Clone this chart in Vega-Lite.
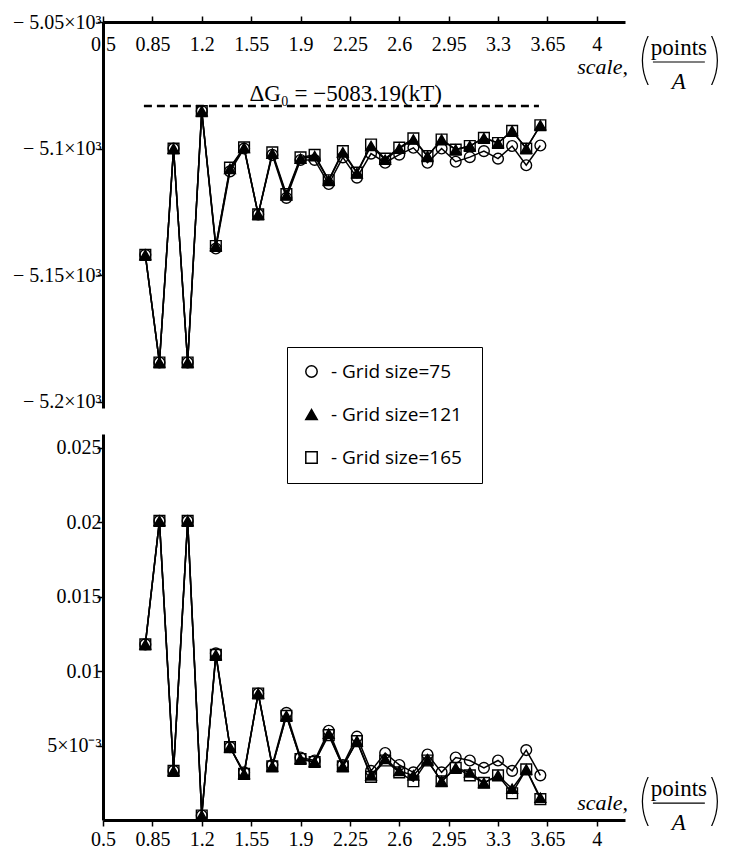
{
  "$schema": "https://vega.github.io/schema/vega-lite/v6.json",
  "background": "white",
  "padding": {"left": 12, "top": 12, "right": 5, "bottom": 5},
  "spacing": 26,
  "bounds": "flush",
  "config": {
    "view": {"stroke": null},
    "axis": {"grid": false, "domainColor": "black", "domainWidth": 3, "tickColor": "black", "tickWidth": 1.5, "tickSize": 6, "labelColor": "black", "labelFont": "Liberation Serif, Times New Roman, serif", "labelFontSize": 20, "labelFlush": false, "labelOverlap": false}
  },
  "datasets": {
    "points": [
      {"scale":0.8,"grid":"Grid size=75","dG":-5142,"err":0.0118},{"scale":0.8,"grid":"Grid size=121","dG":-5142,"err":0.0118},{"scale":0.8,"grid":"Grid size=165","dG":-5142,"err":0.0118},
      {"scale":0.9,"grid":"Grid size=75","dG":-5184.5,"err":0.0201},{"scale":0.9,"grid":"Grid size=121","dG":-5184.5,"err":0.0201},{"scale":0.9,"grid":"Grid size=165","dG":-5184.5,"err":0.0201},
      {"scale":1.0,"grid":"Grid size=75","dG":-5100,"err":0.0033},{"scale":1.0,"grid":"Grid size=121","dG":-5100,"err":0.0033},{"scale":1.0,"grid":"Grid size=165","dG":-5100,"err":0.0033},
      {"scale":1.1,"grid":"Grid size=75","dG":-5184.5,"err":0.0201},{"scale":1.1,"grid":"Grid size=121","dG":-5184.5,"err":0.0201},{"scale":1.1,"grid":"Grid size=165","dG":-5184.5,"err":0.0201},
      {"scale":1.2,"grid":"Grid size=75","dG":-5085.2,"err":0.0003},{"scale":1.2,"grid":"Grid size=121","dG":-5085.2,"err":0.0003},{"scale":1.2,"grid":"Grid size=165","dG":-5085.2,"err":0.0003},
      {"scale":1.3,"grid":"Grid size=75","dG":-5139.5,"err":0.0112},{"scale":1.3,"grid":"Grid size=121","dG":-5138.5,"err":0.0111},{"scale":1.3,"grid":"Grid size=165","dG":-5138.5,"err":0.0111},
      {"scale":1.4,"grid":"Grid size=75","dG":-5109,"err":0.0049},{"scale":1.4,"grid":"Grid size=121","dG":-5108,"err":0.0049},{"scale":1.4,"grid":"Grid size=165","dG":-5107.5,"err":0.0049},
      {"scale":1.5,"grid":"Grid size=75","dG":-5100,"err":0.0032},{"scale":1.5,"grid":"Grid size=121","dG":-5099.7,"err":0.0031},{"scale":1.5,"grid":"Grid size=165","dG":-5099.5,"err":0.0031},
      {"scale":1.6,"grid":"Grid size=75","dG":-5126,"err":0.0085},{"scale":1.6,"grid":"Grid size=121","dG":-5126,"err":0.0085},{"scale":1.6,"grid":"Grid size=165","dG":-5126,"err":0.0085},
      {"scale":1.7,"grid":"Grid size=75","dG":-5102.5,"err":0.0037},{"scale":1.7,"grid":"Grid size=121","dG":-5102,"err":0.0036},{"scale":1.7,"grid":"Grid size=165","dG":-5101.5,"err":0.0036},
      {"scale":1.8,"grid":"Grid size=75","dG":-5119.5,"err":0.0072},{"scale":1.8,"grid":"Grid size=121","dG":-5118.5,"err":0.0070},{"scale":1.8,"grid":"Grid size=165","dG":-5118,"err":0.0070},
      {"scale":1.9,"grid":"Grid size=75","dG":-5104.5,"err":0.0042},{"scale":1.9,"grid":"Grid size=121","dG":-5104,"err":0.0041},{"scale":1.9,"grid":"Grid size=165","dG":-5103.5,"err":0.0041},
      {"scale":2.0,"grid":"Grid size=75","dG":-5104.5,"err":0.0040},{"scale":2.0,"grid":"Grid size=121","dG":-5103,"err":0.0039},{"scale":2.0,"grid":"Grid size=165","dG":-5102.5,"err":0.0039},
      {"scale":2.1,"grid":"Grid size=75","dG":-5114,"err":0.0060},{"scale":2.1,"grid":"Grid size=121","dG":-5112.6,"err":0.0058},{"scale":2.1,"grid":"Grid size=165","dG":-5112.5,"err":0.0057},
      {"scale":2.2,"grid":"Grid size=75","dG":-5103.5,"err":0.0037},{"scale":2.2,"grid":"Grid size=121","dG":-5101.5,"err":0.0036},{"scale":2.2,"grid":"Grid size=165","dG":-5101,"err":0.0036},
      {"scale":2.3,"grid":"Grid size=75","dG":-5111.5,"err":0.0056},{"scale":2.3,"grid":"Grid size=121","dG":-5109.7,"err":0.0053},{"scale":2.3,"grid":"Grid size=165","dG":-5109.5,"err":0.0053},
      {"scale":2.4,"grid":"Grid size=75","dG":-5102,"err":0.0033},{"scale":2.4,"grid":"Grid size=121","dG":-5099,"err":0.0030},{"scale":2.4,"grid":"Grid size=165","dG":-5098.4,"err":0.0029},
      {"scale":2.5,"grid":"Grid size=75","dG":-5105.6,"err":0.0045},{"scale":2.5,"grid":"Grid size=121","dG":-5104.4,"err":0.0041},{"scale":2.5,"grid":"Grid size=165","dG":-5104,"err":0.0040},
      {"scale":2.6,"grid":"Grid size=75","dG":-5102.4,"err":0.0037},{"scale":2.6,"grid":"Grid size=121","dG":-5100,"err":0.0033},{"scale":2.6,"grid":"Grid size=165","dG":-5099.6,"err":0.0032},
      {"scale":2.7,"grid":"Grid size=75","dG":-5099.7,"err":0.0032},{"scale":2.7,"grid":"Grid size=121","dG":-5096.4,"err":0.0030},{"scale":2.7,"grid":"Grid size=165","dG":-5096,"err":0.0026},
      {"scale":2.8,"grid":"Grid size=75","dG":-5105.6,"err":0.0044},{"scale":2.8,"grid":"Grid size=121","dG":-5103,"err":0.0040},{"scale":2.8,"grid":"Grid size=165","dG":-5103,"err":0.0040},
      {"scale":2.9,"grid":"Grid size=75","dG":-5100,"err":0.0032},{"scale":2.9,"grid":"Grid size=121","dG":-5096.4,"err":0.0026},{"scale":2.9,"grid":"Grid size=165","dG":-5096.4,"err":0.0026},
      {"scale":3.0,"grid":"Grid size=75","dG":-5105.2,"err":0.0042},{"scale":3.0,"grid":"Grid size=121","dG":-5100.4,"err":0.0035},{"scale":3.0,"grid":"Grid size=165","dG":-5100.4,"err":0.0035},
      {"scale":3.1,"grid":"Grid size=75","dG":-5103.4,"err":0.0040},{"scale":3.1,"grid":"Grid size=121","dG":-5099,"err":0.0032},{"scale":3.1,"grid":"Grid size=165","dG":-5099,"err":0.0030},
      {"scale":3.2,"grid":"Grid size=75","dG":-5101,"err":0.0035},{"scale":3.2,"grid":"Grid size=121","dG":-5095.8,"err":0.0025},{"scale":3.2,"grid":"Grid size=165","dG":-5095.8,"err":0.0025},
      {"scale":3.3,"grid":"Grid size=75","dG":-5104,"err":0.0040},{"scale":3.3,"grid":"Grid size=121","dG":-5097.8,"err":0.0030},{"scale":3.3,"grid":"Grid size=165","dG":-5097.8,"err":0.0030},
      {"scale":3.4,"grid":"Grid size=75","dG":-5099,"err":0.0033},{"scale":3.4,"grid":"Grid size=121","dG":-5093,"err":0.0021},{"scale":3.4,"grid":"Grid size=165","dG":-5093,"err":0.0018},
      {"scale":3.5,"grid":"Grid size=75","dG":-5106.6,"err":0.0047},{"scale":3.5,"grid":"Grid size=121","dG":-5100,"err":0.0034},{"scale":3.5,"grid":"Grid size=165","dG":-5100,"err":0.0034},
      {"scale":3.6,"grid":"Grid size=75","dG":-5098.8,"err":0.0030},{"scale":3.6,"grid":"Grid size=121","dG":-5090.8,"err":0.0015},{"scale":3.6,"grid":"Grid size=165","dG":-5090.8,"err":0.0014}
    ],
    "notes": [
      {"role":"scale","text":"scale,","scale":4.221,"dG":-5067.6,"err":0.00114},
      {"role":"paren","text":"(","scale":4.334,"dG":-5065.8,"err":0.00114},
      {"role":"paren","text":")","scale":4.844,"dG":-5065.8,"err":0.00114},
      {"role":"num","text":"points","scale":4.582,"dG":-5060.3,"err":0.00208},
      {"role":"den","text":"A","scale":4.582,"dG":-5073.7,"err":-0.0002}
    ],
    "fraction": [{"scale":4.398,"scaleEnd":4.766,"dG":-5065.8,"err":0.00114}],
    "reference": [{"scale":0.79,"scaleEnd":3.59,"dG":-5083.19,"text":"ΔG₀ = −5083.19(kT)","labelScale":2.22,"labelDG":-5081.2}]
  },
  "vconcat": [
    {
      "width": 522,
      "height": 386,
      "encoding": {
        "x": {"field": "scale", "type": "quantitative", "scale": {"domain": [0.5, 4.2], "nice": false, "zero": false},
          "axis": {"orient": "top", "title": null, "values": [0.5,0.85,1.2,1.55,1.9,2.25,2.6,2.95,3.3,3.65,4], "labelExpr": "'' + datum.value", "labelBaseline": "top", "labelPadding": -18}},
        "y": {"field": "dG", "type": "quantitative", "scale": {"domain": [-5202.5, -5050], "nice": false, "zero": false},
          "axis": {"title": null, "values": [-5200,-5150,-5100,-5050], "labelExpr": "'− ' + (-datum.value/1000) + '×10³'", "labelPadding": -4}}
      },
      "layer": [
        {"data": {"name": "reference"}, "mark": {"type": "rule", "color": "black", "strokeWidth": 2.5, "strokeDash": [8, 5]}, "encoding": {"x2": {"field": "scaleEnd"}}},
        {"data": {"name": "reference"}, "mark": {"type": "text", "font": "Liberation Serif, Times New Roman, serif", "fontSize": 23, "color": "black", "baseline": "alphabetic", "align": "center"},
          "encoding": {"x": {"field": "labelScale", "type": "quantitative"}, "y": {"field": "labelDG", "type": "quantitative"}, "text": {"field": "text"}}},
        {"data": {"name": "points"}, "mark": {"type": "line", "color": "black", "strokeWidth": 1.5}, "encoding": {"detail": {"field": "grid"}}},
        {"data": {"name": "points"}, "mark": {"type": "point", "filled": true, "stroke": "black", "strokeWidth": 1.4, "size": 115, "opacity": 1},
          "encoding": {
            "shape": {"field": "grid", "type": "nominal", "scale": {"domain": ["Grid size=75","Grid size=121","Grid size=165"], "range": ["circle","triangle-up","square"]},
              "legend": {"title": null, "orient": "none", "legendX": 184, "legendY": 325, "strokeColor": "black", "padding": 15, "rowPadding": 23, "labelFont": "Open Sans", "labelFontSize": 19, "labelColor": "black", "labelOffset": 10, "symbolSize": 130, "labelLimit": 400, "labelExpr": "'-  ' + datum.label",
                "encode": {"symbols": {"update": {"stroke": {"value": "black"}, "strokeWidth": {"value": 1.4}}}}}},
            "fill": {"field": "grid", "type": "nominal", "scale": {"domain": ["Grid size=75","Grid size=121","Grid size=165"], "range": ["transparent","black","transparent"]},
              "legend": {"title": null, "orient": "none", "legendX": 184, "legendY": 325, "strokeColor": "black", "padding": 15, "rowPadding": 23, "labelFont": "Open Sans", "labelFontSize": 19, "labelColor": "black", "labelOffset": 10, "symbolSize": 130, "labelLimit": 400, "labelExpr": "'-  ' + datum.label",
                "encode": {"symbols": {"update": {"stroke": {"value": "black"}, "strokeWidth": {"value": 1.4}}}}}}
          }},
        {"data": {"name": "notes"}, "transform": [{"filter": "datum.role == 'scale'"}], "mark": {"type": "text", "font": "Liberation Serif, Times New Roman, serif", "fontStyle": "italic", "fontSize": 22, "align": "right", "baseline": "middle", "color": "black"}, "encoding": {"text": {"field": "text"}}},
        {"data": {"name": "notes"}, "transform": [{"filter": "datum.role == 'num'"}], "mark": {"type": "text", "font": "Liberation Serif, Times New Roman, serif", "fontSize": 23, "align": "center", "baseline": "middle", "color": "black"}, "encoding": {"text": {"field": "text"}}},
        {"data": {"name": "notes"}, "transform": [{"filter": "datum.role == 'den'"}], "mark": {"type": "text", "font": "Liberation Serif, Times New Roman, serif", "fontStyle": "italic", "fontSize": 23, "align": "center", "baseline": "middle", "color": "black"}, "encoding": {"text": {"field": "text"}}},
        {"data": {"name": "notes"}, "transform": [{"filter": "datum.role == 'paren'"}], "mark": {"type": "text", "font": "Inter", "fontWeight": 100, "fontSize": 54, "align": "center", "baseline": "middle", "color": "black"}, "encoding": {"text": {"field": "text"}}},
        {"data": {"name": "fraction"}, "mark": {"type": "rule", "color": "black", "strokeWidth": 1.2}, "encoding": {"x2": {"field": "scaleEnd"}}}
      ]
    },
    {
      "width": 522,
      "height": 386,
      "encoding": {
        "x": {"field": "scale", "type": "quantitative", "scale": {"domain": [0.5, 4.2], "nice": false, "zero": false},
          "axis": {"orient": "bottom", "title": null, "values": [0.5,0.85,1.2,1.55,1.9,2.25,2.6,2.95,3.3,3.65,4], "labelExpr": "'' + datum.value", "labelPadding": 3}},
        "y": {"field": "err", "type": "quantitative", "scale": {"domain": [0, 0.02594], "nice": false, "zero": false},
          "axis": {"title": null, "values": [0.005,0.01,0.015,0.02,0.025], "labelExpr": "datum.value < 0.006 ? '5×10⁻³' : '' + datum.value", "labelPadding": -4}}
      },
      "layer": [
        {"data": {"name": "points"}, "mark": {"type": "line", "color": "black", "strokeWidth": 1.5}, "encoding": {"detail": {"field": "grid"}}},
        {"data": {"name": "points"}, "mark": {"type": "point", "filled": true, "stroke": "black", "strokeWidth": 1.4, "size": 115, "opacity": 1},
          "encoding": {
            "shape": {"field": "grid", "type": "nominal", "scale": {"domain": ["Grid size=75","Grid size=121","Grid size=165"], "range": ["circle","triangle-up","square"]},
              "legend": {"title": null, "orient": "none", "legendX": 184, "legendY": 325, "strokeColor": "black", "padding": 15, "rowPadding": 23, "labelFont": "Open Sans", "labelFontSize": 19, "labelColor": "black", "labelOffset": 10, "symbolSize": 130, "labelLimit": 400, "labelExpr": "'-  ' + datum.label",
                "encode": {"symbols": {"update": {"stroke": {"value": "black"}, "strokeWidth": {"value": 1.4}}}}}},
            "fill": {"field": "grid", "type": "nominal", "scale": {"domain": ["Grid size=75","Grid size=121","Grid size=165"], "range": ["transparent","black","transparent"]},
              "legend": {"title": null, "orient": "none", "legendX": 184, "legendY": 325, "strokeColor": "black", "padding": 15, "rowPadding": 23, "labelFont": "Open Sans", "labelFontSize": 19, "labelColor": "black", "labelOffset": 10, "symbolSize": 130, "labelLimit": 400, "labelExpr": "'-  ' + datum.label",
                "encode": {"symbols": {"update": {"stroke": {"value": "black"}, "strokeWidth": {"value": 1.4}}}}}}
          }},
        {"data": {"name": "notes"}, "transform": [{"filter": "datum.role == 'scale'"}], "mark": {"type": "text", "font": "Liberation Serif, Times New Roman, serif", "fontStyle": "italic", "fontSize": 22, "align": "right", "baseline": "middle", "color": "black"}, "encoding": {"text": {"field": "text"}}},
        {"data": {"name": "notes"}, "transform": [{"filter": "datum.role == 'num'"}], "mark": {"type": "text", "font": "Liberation Serif, Times New Roman, serif", "fontSize": 23, "align": "center", "baseline": "middle", "color": "black"}, "encoding": {"text": {"field": "text"}}},
        {"data": {"name": "notes"}, "transform": [{"filter": "datum.role == 'den'"}], "mark": {"type": "text", "font": "Liberation Serif, Times New Roman, serif", "fontStyle": "italic", "fontSize": 23, "align": "center", "baseline": "middle", "color": "black"}, "encoding": {"text": {"field": "text"}}},
        {"data": {"name": "notes"}, "transform": [{"filter": "datum.role == 'paren'"}], "mark": {"type": "text", "font": "Inter", "fontWeight": 100, "fontSize": 54, "align": "center", "baseline": "middle", "color": "black"}, "encoding": {"text": {"field": "text"}}},
        {"data": {"name": "fraction"}, "mark": {"type": "rule", "color": "black", "strokeWidth": 1.2}, "encoding": {"x2": {"field": "scaleEnd"}}}
      ]
    }
  ],
  "resolve": {"scale": {"y": "independent", "x": "independent"}, "axis": {"x": "independent", "y": "independent"}}
}
